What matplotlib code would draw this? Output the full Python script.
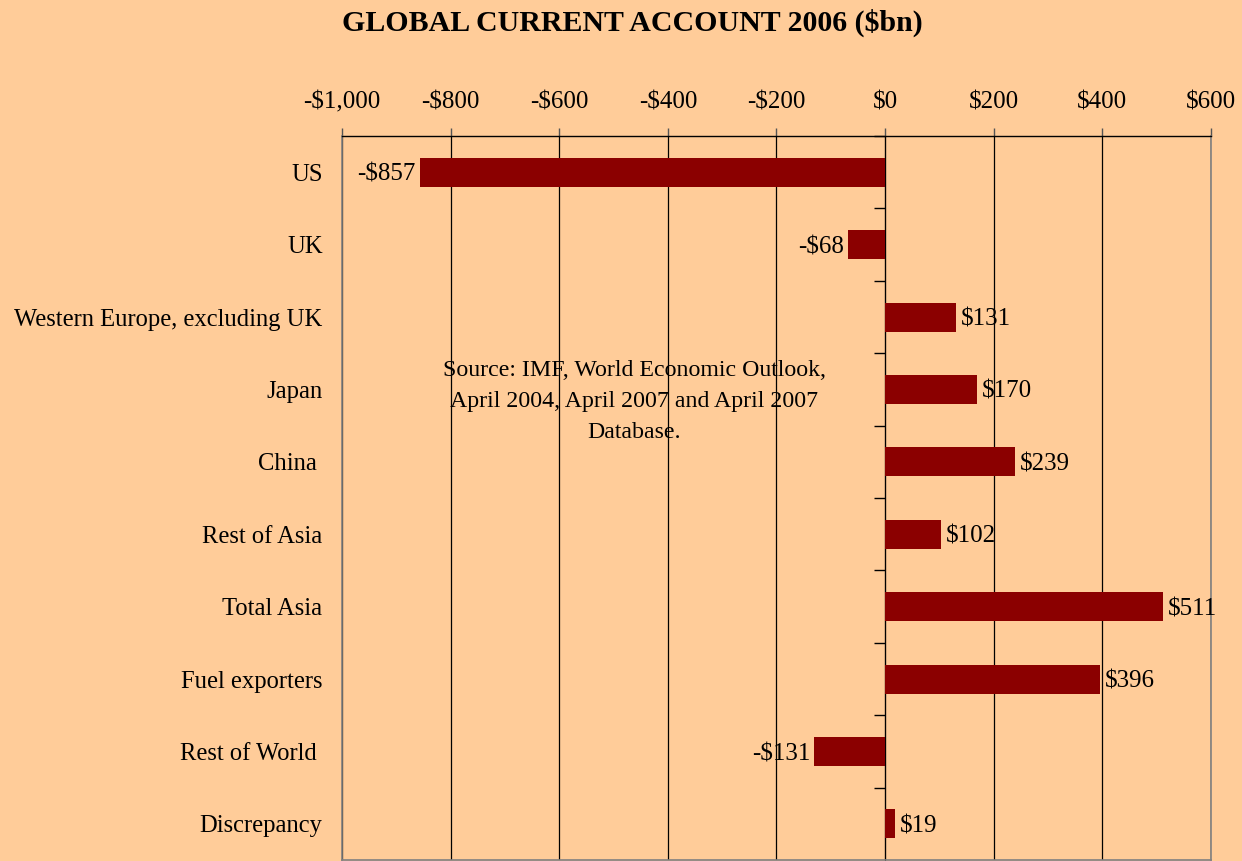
import matplotlib
matplotlib.use("Agg")
import matplotlib.pyplot as plt

plt.rcParams['font.family'] = ['Liberation Serif', 'DejaVu Serif']

categories = ["US", "UK", "Western Europe, excluding UK", "Japan", "China ",
              "Rest of Asia", "Total Asia", "Fuel exporters", "Rest of World ",
              "Discrepancy"]
values = [-857, -68, 131, 170, 239, 102, 511, 396, -131, 19]
xticks = [-1000, -800, -600, -400, -200, 0, 200, 400, 600]

BG = "#FFCC99"
BAR = "#8B0000"

def money(v):
    s = "${:,.0f}".format(abs(v))
    return "-" + s if v < 0 else s

fig = plt.figure(figsize=(12.42, 8.61), dpi=100, facecolor=BG)
ax = fig.add_axes([0.2754, 0.001, 0.6996, 0.841], facecolor=BG)

ypos = list(range(len(categories)))
ax.barh(ypos, values, height=0.4, color=BAR, zorder=3)
ax.set_xlim(-1000, 600)
ax.set_ylim(len(categories) - 0.5, -0.5)

# value labels
for y, v in zip(ypos, values):
    if v < 0:
        ax.text(v - 7, y, money(v), ha="right", va="center_baseline", fontsize=18, zorder=4)
    else:
        ax.text(v + 9, y, money(v), ha="left", va="center_baseline", fontsize=18, zorder=4)

# top axis
ax.xaxis.tick_top()
ax.set_xticks(xticks)
ax.set_xticklabels([money(t) for t in xticks])
ax.tick_params(axis="x", labelsize=18, length=6, width=1, color="#555555", pad=10)
ax.grid(axis="x", color="black", lw=0.9, zorder=1)

ax.set_yticks(ypos)
ax.set_yticklabels(categories, va="center_baseline")
ax.tick_params(axis="y", labelsize=17.7, length=0, pad=14)

for side in ["left", "right", "bottom"]:
    ax.spines[side].set_color("#808080")
    ax.spines[side].set_linewidth(1.2)
ax.spines["top"].set_color("black")
ax.spines["top"].set_linewidth(1.0)

# zero line with category divider ticks
x0 = (0 - ax.get_xlim()[0]) / (ax.get_xlim()[1] - ax.get_xlim()[0])
sec = ax.secondary_yaxis(x0)
sec.set_yticks([y + 0.5 for y in ypos[:-1]] + [-0.5])
sec.set_yticklabels([])
sec.tick_params(length=8, width=1, color="black", direction="in")
sec.spines["left"].set_color("#808080")
sec.spines["left"].set_linewidth(1.2)

ax.text(-462, 3.17, "Source: IMF, World Economic Outlook,\nApril 2004, April 2007 and April 2007\nDatabase.",
        ha="center", va="center", fontsize=17.2, linespacing=1.62, zorder=5)

fig.text(0.509, 0.973, "GLOBAL CURRENT ACCOUNT 2006 ($bn)", ha="center", va="center",
         fontsize=21.5, fontweight="bold")

fig.savefig("out.png", dpi=100, facecolor=BG)
